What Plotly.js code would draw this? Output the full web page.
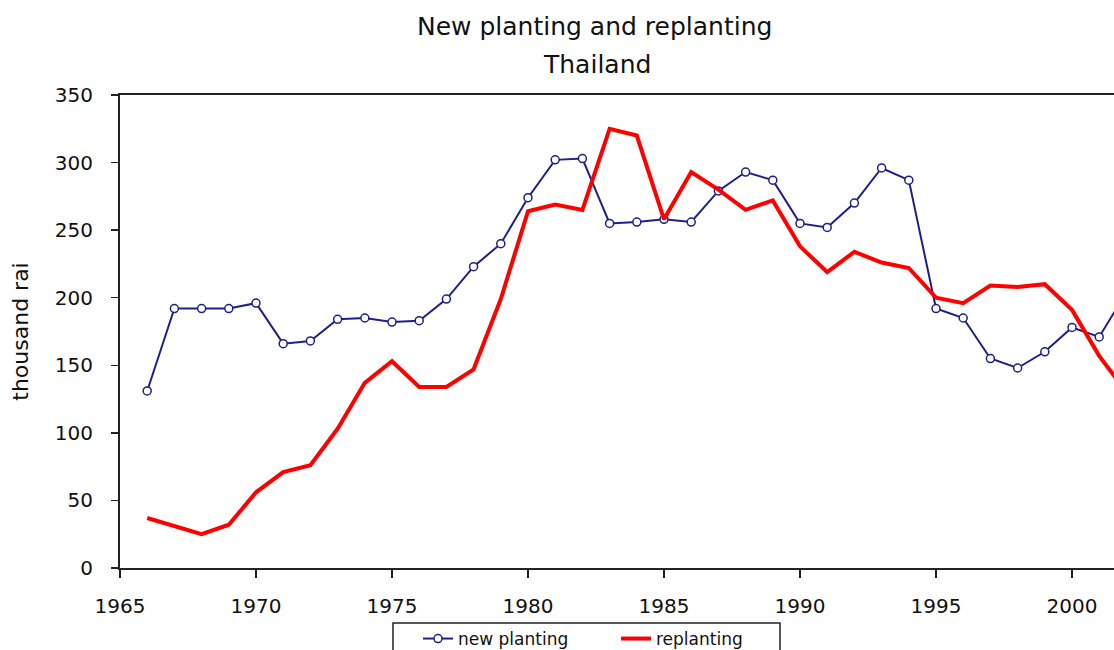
<!DOCTYPE html>
<html>
<head>
<meta charset="utf-8">
<script src="https://cdn.plot.ly/plotly-3.0.1.min.js"></script>
<style>
html,body{margin:0;padding:0;background:#fff;overflow:hidden;}
#chart{width:1114px;height:650px;}
</style>
</head>
<body>
<div id="chart"></div>
<script>
const years = [1966,1967,1968,1969,1970,1971,1972,1973,1974,1975,1976,1977,1978,1979,1980,1981,1982,1983,1984,1985,1986,1987,1988,1989,1990,1991,1992,1993,1994,1995,1996,1997,1998,1999,2000,2001,2002];
const newPlanting = [131,192,192,192,196,166,168,184,185,182,183,199,223,240,274,302,303,255,256,258,256,279,293,287,255,252,270,296,287,192,185,155,148,160,178,171,204];
const replanting = [37,31,25,32,56,71,76,103,137,153,134,134,147,199,264,269,265,325,320,258,293,280,265,272,238,219,234,226,222,200,196,209,208,210,191,157,130];
const xTicks = [1965,1970,1975,1980,1985,1990,1995,2000];
const yTicks = [0,50,100,150,200,250,300,350];
const titleLine1 = 'New planting and replanting';
const titleLine2 = 'Thailand';
const yTitle = 'thousand rai';

const FONT = 'DejaVu Sans, Verdana, sans-serif';

// pixel helpers for placing non-data decorations (plot area: x 120..1114, y 95..568)
const px = x => (x - 120) / 994;
const py = y => (568 - y) / 473;

const traces = [
  {
    x: years, y: newPlanting, name: 'new planting', type: 'scatter', mode: 'lines+markers',
    line: {color: '#1f1f88', width: 2},
    marker: {symbol: 'circle', size: 8, color: '#ffffff', line: {color: '#1f1f88', width: 1.5}}
  },
  {
    x: years, y: replanting, name: 'replanting', type: 'scatter', mode: 'lines',
    line: {color: '#ff0000', width: 4}
  }
];

const layout = {
  width: 1114, height: 650,
  margin: {l: 120, r: 0, t: 95, b: 82},
  paper_bgcolor: '#ffffff', plot_bgcolor: '#ffffff',
  font: {family: FONT, color: '#111111', size: 20},
  showlegend: true,
  legend: {
    orientation: 'h', xref: 'container', yref: 'container',
    x: 418/1114, xanchor: 'left', y: 1 - 621/650, yanchor: 'top',
    borderwidth: 0, bgcolor: 'rgba(0,0,0,0)',
    font: {family: FONT, size: 17, color: '#111111'},
    entrywidth: 153, traceorder: 'normal'
  },
  xaxis: {
    range: [1965, 1965 + 994/27.2], tickmode: 'array', tickvals: xTicks,
    ticks: 'outside', ticklen: 8, tickwidth: 1.5, tickcolor: '#222222',
    showline: true, linecolor: '#222222', linewidth: 2, mirror: true,
    showgrid: false, zeroline: false,
    tickfont: {family: FONT, size: 20, color: '#111111'},
    ticklabelstandoff: 11
  },
  yaxis: {
    range: [0, 350], tickmode: 'array', tickvals: yTicks,
    ticks: 'outside', ticklen: 7, tickwidth: 1.5, tickcolor: '#222222',
    showline: true, linecolor: '#222222', linewidth: 2,
    showgrid: false, zeroline: false,
    tickfont: {family: FONT, size: 20, color: '#111111'},
    ticklabelstandoff: 14,
    title: {text: yTitle, font: {family: FONT, size: 22, color: '#111111'}, standoff: 20}
  },
  shapes: [
    {type: 'rect', xref: 'paper', yref: 'paper', x0: px(393), x1: px(780), y0: py(623), y1: py(665),
     line: {color: '#222222', width: 1.5}, fillcolor: 'rgba(0,0,0,0)', layer: 'above'}
  ],
  annotations: [
    {text: titleLine1, xref: 'paper', yref: 'paper', x: px(594), y: py(27),
     xanchor: 'center', yanchor: 'middle', showarrow: false,
     font: {family: FONT, size: 25, color: '#111111'}},
    {text: titleLine2, xref: 'paper', yref: 'paper', x: px(597), y: py(65),
     xanchor: 'center', yanchor: 'middle', showarrow: false,
     font: {family: FONT, size: 25, color: '#111111'}}
  ]
};

Plotly.newPlot('chart', traces, layout, {displayModeBar: false, staticPlot: true});
</script>
</body>
</html>
